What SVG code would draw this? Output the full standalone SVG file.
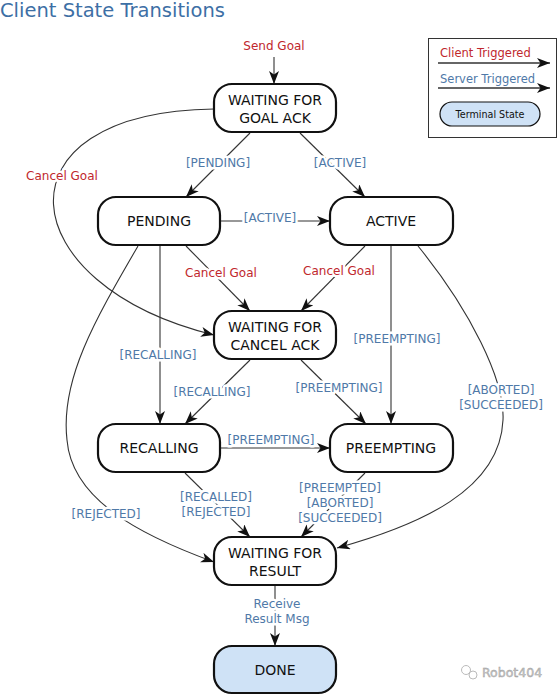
<svg xmlns="http://www.w3.org/2000/svg" width="559" height="695" viewBox="0 0 559 695">
<defs>
<marker id="arr" markerWidth="14" markerHeight="11" refX="13" refY="5" orient="auto" markerUnits="userSpaceOnUse">
<path d="M0,0 L13,5 L0,10 L3.5,5 z" fill="#111"/>
</marker>
</defs>
<style>
.node rect{fill:#fff;stroke:#111;stroke-width:2.2}
.node.term rect{fill:#cfe2f6}
.node text{font-family:"DejaVu Sans",sans-serif;font-size:14px;fill:#111;text-anchor:middle}
.edge{fill:none;stroke:#333;stroke-width:1.1;marker-end:url(#arr)}
.lbl{font-family:"DejaVu Sans",sans-serif;font-size:12px;text-anchor:middle;stroke:#fff;stroke-width:5;paint-order:stroke;stroke-linejoin:round}
.srv{fill:#4f79a8}
.cli{fill:#c0272d}
</style>
<rect width="559" height="695" fill="#fff"/>
<text x="0" y="17" font-family="DejaVu Sans, sans-serif" font-size="19.5" fill="#3d6fa5">Client State Transitions</text>

<g id="legend">
<rect x="428.5" y="38.5" width="128" height="99" fill="#fff" stroke="#333" stroke-width="1"/>
<text x="440" y="57" font-family="DejaVu Sans, sans-serif" font-size="11.5" fill="#c0272d">Client Triggered</text>
<path d="M438,63 L550,63" fill="none" stroke="#333" stroke-width="1.3" marker-end="url(#arr)"/>
<text x="440" y="83" font-family="DejaVu Sans, sans-serif" font-size="11.5" fill="#4f79a8">Server Triggered</text>
<path d="M438,88 L550,88" fill="none" stroke="#333" stroke-width="1.3" marker-end="url(#arr)"/>
<rect x="440" y="102" width="100" height="24" rx="12" fill="#cfe2f6" stroke="#111" stroke-width="1.2"/>
<text x="490" y="117.5" font-family="DejaVu Sans, sans-serif" font-size="9.6" fill="#111" text-anchor="middle">Terminal State</text>
</g>

<g id="connectors">
<path class="edge" d="M274,57 L274,84"/>
<path class="edge" d="M250,133 L186,197"/>
<path class="edge" d="M300,133 L365,197"/>
<path class="edge" d="M220,221 L330,221"/>
<path class="edge" d="M214,109 C-10,112 10,285 214,335"/>
<path class="edge" d="M186,246 L250,311"/>
<path class="edge" d="M365,246 L301,311"/>
<path class="edge" d="M160,246 L160,424"/>
<path class="edge" d="M138,246 C95,320 60,380 67,440 C72,500 140,535 214,562"/>
<path class="edge" d="M250,360 L185,424"/>
<path class="edge" d="M301,360 L366,424"/>
<path class="edge" d="M391,246 L391,424"/>
<path class="edge" d="M418,246 C470,310 505,380 503,420 C500,490 420,525 337,548"/>
<path class="edge" d="M220,448 L330,448"/>
<path class="edge" d="M185,473 L250,537"/>
<path class="edge" d="M365,473 L301,537"/>
<path class="edge" d="M275,586 L275,646"/>
</g>

<g id="labels">
<text class="lbl cli" x="274" y="50">Send Goal</text>
<text class="lbl srv" x="218" y="167">[PENDING]</text>
<text class="lbl srv" x="340" y="167">[ACTIVE]</text>
<text class="lbl srv" x="270" y="222">[ACTIVE]</text>
<text class="lbl cli" x="62" y="180">Cancel Goal</text>
<text class="lbl cli" x="221" y="277">Cancel Goal</text>
<text class="lbl cli" x="339" y="275">Cancel Goal</text>
<text class="lbl srv" x="158" y="359">[RECALLING]</text>
<text class="lbl srv" x="397" y="343">[PREEMPTING]</text>
<text class="lbl srv" x="212" y="396">[RECALLING]</text>
<text class="lbl srv" x="339" y="392">[PREEMPTING]</text>
<text class="lbl srv" x="501" y="394">[ABORTED]</text>
<text class="lbl srv" x="501" y="409">[SUCCEEDED]</text>
<text class="lbl srv" x="271" y="444">[PREEMPTING]</text>
<text class="lbl srv" x="106" y="518">[REJECTED]</text>
<text class="lbl srv" x="216" y="501">[RECALLED]</text>
<text class="lbl srv" x="216" y="516">[REJECTED]</text>
<text class="lbl srv" x="340" y="492">[PREEMPTED]</text>
<text class="lbl srv" x="340" y="507">[ABORTED]</text>
<text class="lbl srv" x="340" y="522">[SUCCEEDED]</text>
<text class="lbl srv" x="277" y="608">Receive</text>
<text class="lbl srv" x="277" y="623">Result Msg</text>
</g>

<g id="goal_ack" class="node">
<rect x="214" y="84" width="122" height="48" rx="18"/>
<text x="275" y="104.5">WAITING FOR</text>
<text x="275" y="122.5">GOAL ACK</text>
</g>
<g id="pending" class="node">
<rect x="98" y="197" width="122" height="48" rx="18"/>
<text x="159" y="226">PENDING</text>
</g>
<g id="active" class="node">
<rect x="330" y="197" width="123" height="48" rx="18"/>
<text x="391" y="226">ACTIVE</text>
</g>
<g id="cancel_ack" class="node">
<rect x="214" y="311" width="122" height="48" rx="18"/>
<text x="275" y="331.5">WAITING FOR</text>
<text x="275" y="349.5">CANCEL ACK</text>
</g>
<g id="recalling" class="node">
<rect x="98" y="424" width="122" height="48" rx="18"/>
<text x="159" y="453">RECALLING</text>
</g>
<g id="preempting" class="node">
<rect x="330" y="424" width="123" height="48" rx="18"/>
<text x="391" y="453">PREEMPTING</text>
</g>
<g id="wait_result" class="node">
<rect x="214" y="537" width="122" height="48" rx="18"/>
<text x="275" y="557.5">WAITING FOR</text>
<text x="275" y="575.5">RESULT</text>
</g>
<g id="done" class="node term">
<rect x="214" y="646" width="122" height="47" rx="18"/>
<text x="275" y="675">DONE</text>
</g>

<g id="watermark" fill="none" stroke="#bbb" stroke-width="1">
<circle cx="466" cy="670" r="4.5"/>
<circle cx="473" cy="675" r="4"/>
<text x="482" y="677" font-family="DejaVu Sans, sans-serif" font-size="12.5" fill="#c8c8c8" stroke="#999" stroke-width="0.4">Robot404</text>
</g>
</svg>
